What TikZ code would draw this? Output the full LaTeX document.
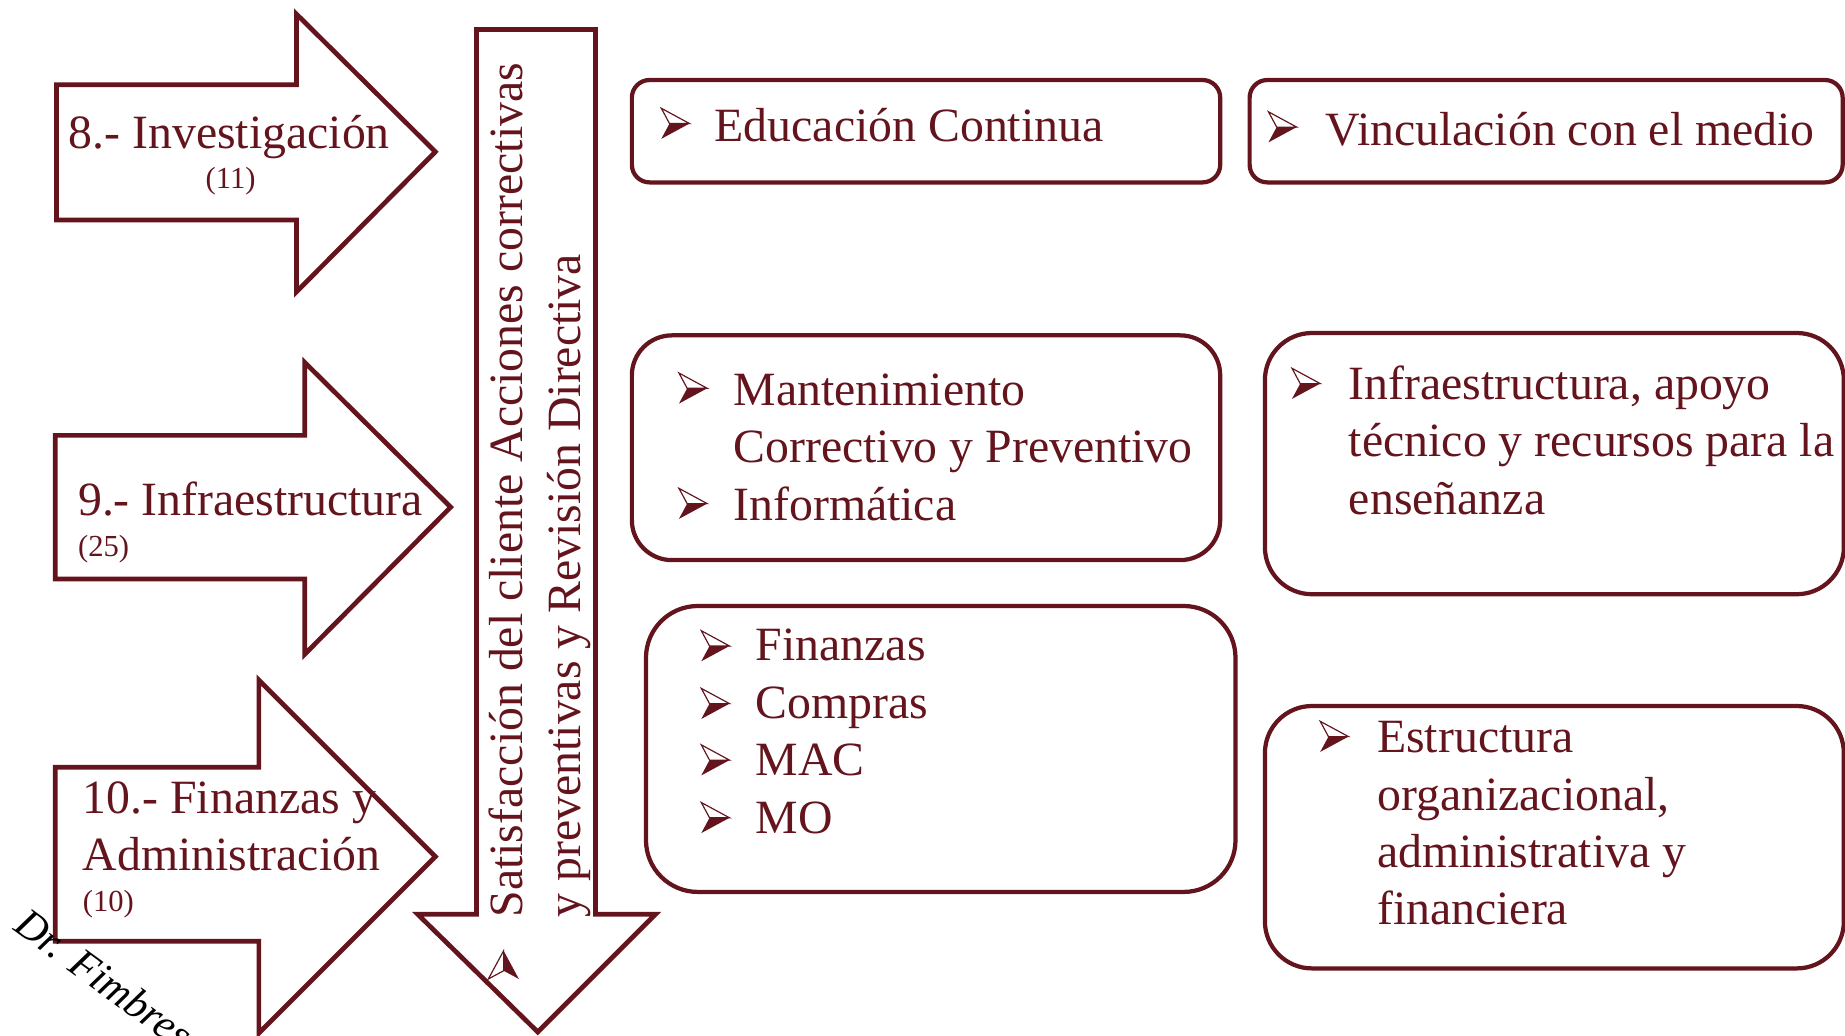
\documentclass[tikz,border=0pt]{standalone}
\usepackage{fontspec}
\setmainfont{Liberation Serif}
\definecolor{vino}{RGB}{100,20,28}
\tikzset{pics/bul/.style={code={
  \filldraw[vino, fill=white, line width=0.5pt] (0,-13) -- (24,0) -- (7,0) -- cycle;
  \fill[vino] (7,0) -- (24,0) -- (0,13) -- cycle;
}}}
\begin{document}
\begin{tikzpicture}[x=0.5pt,y=-0.5pt,
  flecha/.style={draw=vino, line width=2pt, line join=miter},
  caja/.style={draw=vino, line width=1.8pt},
  txt/.style={text=vino, anchor=base west, align=left, inner sep=0pt, font=\fontsize{20.3}{24.4}\selectfont},
  num/.style={text=vino, anchor=base west, inner sep=0pt, font=\fontsize{13}{15}\selectfont}]
\useasboundingbox (0,0) rectangle (1568,880);
% flechas de la izquierda
\draw[flecha] (48,72) -- (252,72) -- (252,12) -- (370,129) -- (252,248) -- (252,187) -- (48,187) -- cycle;
\draw[flecha] (47,370) -- (259,370) -- (259,308) -- (383,431) -- (259,556) -- (259,492) -- (47,492) -- cycle;
\draw[flecha] (47,652) -- (220,652) -- (220,578) -- (370,728) -- (220,878) -- (220,800) -- (47,800) -- cycle;
\node[txt] (8) at (58,126) {8.- Investigación};
\node[num, anchor=base] (8n) at (196,160) {(11)};
\node[txt] (9) at (66,438) {9.- Infraestructura};
\node[num] (9n) at (66,473) {(25)};
% base = ultima linea
\node[txt] (10) at (70,740) {10.- Finanzas y\\Administración};
\node[num] (10n) at (70,775) {(10)};
% flecha vertical
\draw[flecha] (405,25) -- (506,25) -- (506,777) -- (557,777) -- (457,877) -- (355,777) -- (405,777) -- cycle;
\node[txt, rotate=90] (sat) at (493,780) {Satisfacción del cliente Acciones correctivas\\y preventivas y Revisión Directiva};
\pic[rotate=90] at (428,832) {bul};
% cajas
\draw[caja, rounded corners=7.5pt] (537,68) rectangle (1037,155);
\draw[caja, rounded corners=7.5pt] (1062,68) rectangle (1566,155);
\draw[caja, rounded corners=17pt] (537,285) rectangle (1037,476);
\draw[caja, rounded corners=20pt] (1075,283) rectangle (1567,505);
\draw[caja, rounded corners=22pt] (549,515) rectangle (1050,758);
\draw[caja, rounded corners=20pt] (1075,600) rectangle (1567,823);
\pic at (562,105) {bul};
\node[txt] (a) at (607,120) {Educación Continua};
\pic at (1078,108) {bul};
\node[txt] (b) at (1126,124) {Vinculación con el medio};
\pic at (577,330) {bul};
\pic at (577,428) {bul};
\node[txt] (c) at (623,442) {Mantenimiento\\Correctivo y Preventivo\\Informática};
\pic at (1098,326) {bul};
\node[txt] (d) at (1146,437) {Infraestructura, apoyo\\técnico y recursos para la\\enseñanza};
\foreach \y in {549,598,646,695}
  \pic at (596,\y) {bul};
\node[txt] (e) at (642,708) {Finanzas\\Compras\\MAC\\MO};
\pic at (1122,626) {bul};
\node[txt] (f) at (1170,786) {Estructura\\organizacional,\\administrativa y\\financiera};
% firma
\node[font=\fontsize{18}{20}\selectfont\itshape, rotate=-36, anchor=base west, inner sep=0pt] (firma) at (10,790) {Dr. Fimbres};
\end{tikzpicture}
\end{document}
